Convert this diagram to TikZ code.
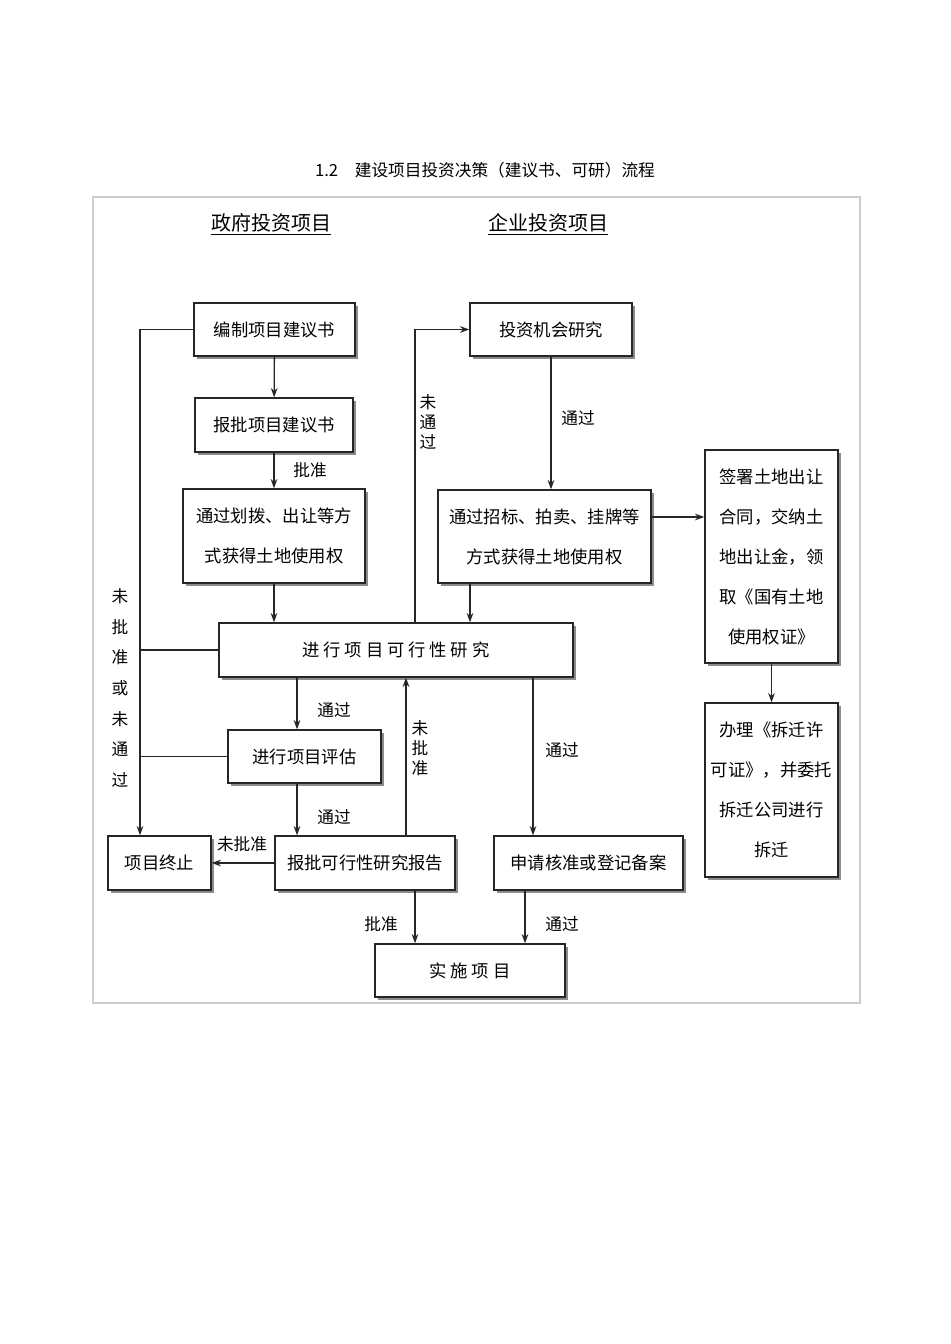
\documentclass[tikz,border=0pt]{standalone}
\usepackage{fontspec}
\setmainfont{Noto Sans CJK SC}
\usetikzlibrary{shadows,arrows.meta}
\begin{document}
\begin{tikzpicture}[x=0.75pt,y=-0.75pt,
  box/.style={draw=black!85,line width=1pt,fill=white,align=center,inner sep=0pt,
    font=\fontsize{13}{30}\selectfont,
    drop shadow={shadow xshift=2.5pt,shadow yshift=-2.5pt,fill=black!45,opacity=1}},
  arr/.style={draw=black!85,line width=1pt,-{Stealth[length=7pt,width=5pt]}},
  ln/.style={draw=black!85,line width=1pt},
  lab/.style={font=\fontsize{12.5}{15}\selectfont,align=center}]
\useasboundingbox (0,0) rectangle (950,1344);
\fill[white] (0,0) rectangle (950,1344);
\draw[black!20,line width=0.8pt] (93,197) rectangle (860,1003);
\node[font=\fontsize{12.5}{15}\selectfont] (title) at (485,170) {1.2\quad 建设项目投资决策（建议书、可研）流程};
\node[font=\fontsize{15}{18}\selectfont] (h1) at (271,224) {\underline{政府投资项目}};
\node[font=\fontsize{15}{18}\selectfont] (h2) at (548,224) {\underline{企业投资项目}};

\node[box,minimum width=120.75pt,minimum height=39.75pt] (bj) at (274.5,329.5) {编制项目建议书};
\node[box,minimum width=118.5pt,minimum height=40.5pt] (bp) at (274,425) {报批项目建议书};
\node[box,minimum width=136.5pt,minimum height=70.5pt] (hb) at (274,536) {通过划拨、出让等方\\式获得土地使用权};
\node[box,minimum width=121.5pt,minimum height=39.75pt] (tz) at (551,329.5) {投资机会研究};
\node[box,minimum width=159.75pt,minimum height=69.75pt] (zb) at (544.5,536.5) {通过招标、拍卖、挂牌等\\方式获得土地使用权};
\node[box,minimum width=99.75pt,minimum height=159.75pt] (qs) at (771.5,556.5) {签署土地出让\\合同，交纳土\\地出让金，领\\取《国有土地\\使用权证》};
\node[box,minimum width=99.75pt,minimum height=130.5pt] (bl) at (771.5,790) {办理《拆迁许\\可证》，并委托\\拆迁公司进行\\拆迁};
\node[box,minimum width=265.5pt,minimum height=40.5pt] (kx) at (396,650) {进\ 行\ 项\ 目\ 可\ 行\ 性\ 研\ 究};
\node[box,minimum width=114.75pt,minimum height=39.75pt] (pg) at (304.5,756.5) {进行项目评估};
\node[box,minimum width=77.25pt,minimum height=40.5pt] (zz) at (159.5,863) {项目终止};
\node[box,minimum width=135pt,minimum height=40.5pt] (bk) at (365,863) {报批可行性研究报告};
\node[box,minimum width=141.75pt,minimum height=40.5pt] (sq) at (588.5,863) {申请核准或登记备案};
\node[box,minimum width=142.5pt,minimum height=39.75pt] (ss) at (470,970.5) {实\ 施\ 项\ 目};

\coordinate (xl) at (140,0);
\coordinate (xa) at (415,0);
\coordinate (xb) at (470,0);
\coordinate (xc) at (297,0);
\coordinate (xd) at (406,0);
\coordinate (xe) at (533,0);
\coordinate (xf) at (525,0);

\draw[arr] (bj.west) -| (zz.north -| xl);
\draw[ln] (kx.west) -- (kx.west -| xl);
\draw[ln] (pg.west) -- (pg.west -| xl);
\draw[arr] (bj) -- (bp);
\draw[arr] (bp) -- (hb);
\draw[arr] (hb) -- (hb.south |- kx.north);
\draw[arr] (kx.north -| xa) |- (tz.west);
\draw[arr] (tz) -- (tz.south |- zb.north);
\draw[arr] (zb.south -| xb) -- (kx.north -| xb);
\draw[arr,line width=1.6pt] (zb.east |- 0,517) -- (qs.west |- 0,517);
\draw[arr] (qs) -- (bl);
\draw[arr] (kx.south -| xc) -- (pg.north -| xc);
\draw[arr] (pg.south -| xc) -- (bk.north -| xc);
\draw[arr] (bk.north -| xd) -- (kx.south -| xd);
\draw[arr] (bk) -- (zz);
\draw[arr] (kx.south -| xe) -- (sq.north -| xe);
\draw[arr] (bk.south -| xa) -- (ss.north -| xa);
\draw[arr] (sq.south -| xf) -- (ss.north -| xf);

\node[lab] (l1) at (310,470) {批准};
\node[lab] (l2) at (428,422) {未\\通\\过};
\node[lab] (l3) at (578,418) {通过};
\node[lab] (l4) at (334,710) {通过};
\node[lab] (l5) at (334,817) {通过};
\node[lab] (l6) at (420,748) {未\\批\\准};
\node[lab] (l7) at (242,844) {未批准};
\node[lab] (l8) at (562,750) {通过};
\node[lab,font=\fontsize{12.5}{23}\selectfont] (l9) at (120,688) {未\\批\\准\\或\\未\\通\\过};
\node[lab] (l10) at (381,924) {批准};
\node[lab] (l11) at (562,924) {通过};
\end{tikzpicture}
\end{document}
